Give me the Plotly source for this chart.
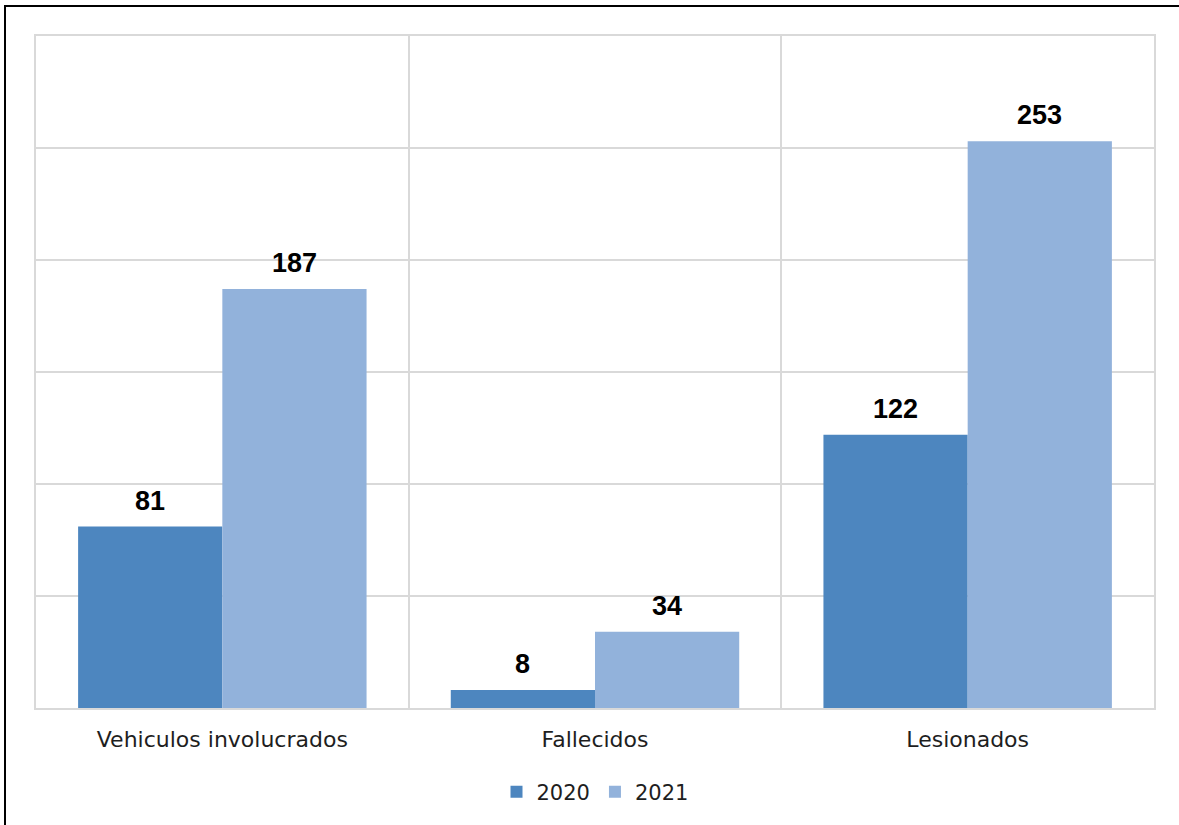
import plotly.graph_objects as go

categories = ["Vehiculos involucrados", "Fallecidos", "Lesionados"]
series_names = ["2020", "2021"]
values_2020 = [81, 8, 122]
values_2021 = [187, 34, 253]
colors = ["#4D86BF", "#92B2DB"]

W, H = 1179, 825
L, R, T, B = 36, 25, 36, 117
plot_w = W - L - R
plot_h = H - T - B
bargap = 0.226

fig = go.Figure()
for name, vals, col in zip(series_names, [values_2020, values_2021], colors):
    fig.add_trace(go.Bar(
        x=categories, y=vals, name=name,
        marker=dict(color=col, line=dict(width=0)),
        cliponaxis=False,
    ))

# data labels above bars
cat_px = plot_w / len(categories)
bar_px = cat_px * (1 - bargap) / len(series_names)
for j, vals in enumerate([values_2020, values_2021]):
    off = (j - (len(series_names) - 1) / 2) * bar_px
    for c, v in zip(categories, vals):
        fig.add_annotation(
            x=c, y=v, text=f"<b>{v}</b>", showarrow=False,
            xshift=off, yshift=9, yanchor="bottom",
            font=dict(family="Liberation Sans, Arial", size=27, color="#000000"),
        )

grid = "#D9D9D9"
fig.update_layout(
    width=W, height=H,
    margin=dict(l=L, r=R, t=T, b=B),
    paper_bgcolor="white", plot_bgcolor="white",
    barmode="group", bargap=bargap, bargroupgap=0,
    showlegend=True,
    legend=dict(orientation="h", x=0.5, xanchor="center", y=-84 / plot_h, yanchor="middle",
                font=dict(family="DejaVu Sans", size=21, color="#1E1E1E"),
                traceorder="normal"),
    xaxis=dict(
        type="category", tickson="boundaries", showgrid=True, gridcolor=grid, gridwidth=1.5,
        showline=True, linecolor=grid, linewidth=1.5, mirror=True, ticks="",
        ticklabelstandoff=11,
        tickfont=dict(family="DejaVu Sans", size=22, color="#1E1E1E"),
    ),
    yaxis=dict(
        range=[0, 300], dtick=50, showgrid=True, gridcolor=grid, gridwidth=1.5,
        showline=True, linecolor=grid, linewidth=1.5, mirror=True,
        showticklabels=False, ticks="", zeroline=False,
    ),
    shapes=[dict(
        type="rect", xref="paper", yref="paper",
        x0=(5 - L) / plot_w, x1=(W + 10 - L) / plot_w,
        y0=-(B + 20) / plot_h, y1=(H - B - 6) / plot_h,
        line=dict(color="black", width=2), layer="above",
    )],
)

fig.write_html("out.html", config={"displayModeBar": False},
               post_script="document.body.style.margin='0';document.body.style.overflow='hidden';")
